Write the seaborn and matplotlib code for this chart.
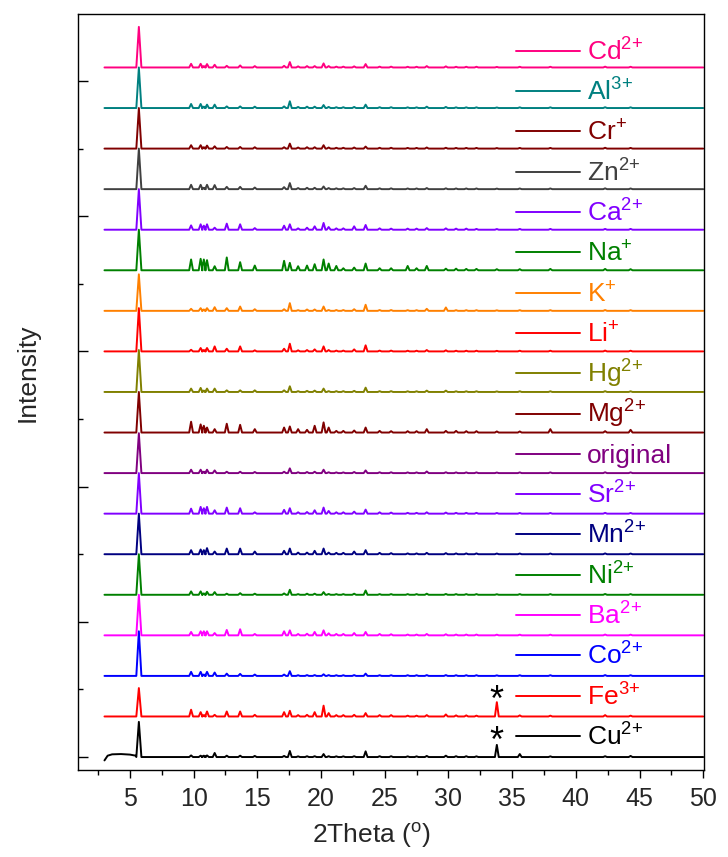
import matplotlib
matplotlib.use("Agg")
import matplotlib.pyplot as plt
import seaborn as sns
import pandas as pd
from matplotlib.ticker import MultipleLocator

# ---------------- data ----------------
# common reflection positions (2theta, degrees)
PEAK_POS = [5.7, 9.8, 10.55, 10.8, 11.05, 11.65, 12.6, 13.65, 14.8, 17.1,
            17.55, 18.2, 18.9, 19.5, 20.2, 20.6, 21.2, 21.75, 22.6, 23.5,
            24.6, 25.5, 26.8, 27.5, 28.3, 29.8, 30.6, 31.4, 32.2, 33.8,
            35.6, 38.0, 42.3, 44.3]

# peak heights above each pattern's own baseline (arbitrary units, x1000 counts)
cu_h = [2.6, .12, .10, .10, .12, .30, .10, .10, .08, .08, .45, .05, .06, .06, .22, .06, .05, .05, .06, .42,
        .06, .06, .05, .05, .08, .10, .06, .06, .05, .90, .22, .05, .06, .08]
fe_h = [2.1, .50, .32, .10, .37, .12, .37, .37, .12, .32, .42, .10, .12, .32, .80, .25, .10, .10, .12, .25,
        .10, .10, .06, .06, .10, .15, .08, .08, .06, 1.06, .08, .06, .10, .06]
co_h = [3.3, .30, .30, .10, .30, .25, .17, .15, .10, .10, .35, .05, .06, .06, .12, .06, .05, .05, .06, .17,
        .05, .05, .05, .05, .06, .06, .05, .05, .05, .04, .05, .05, .06, .05]
ba_h = [3.0, .25, .30, .30, .30, .17, .40, .45, .10, .30, .37, .10, .12, .25, .37, .15, .10, .10, .17, .25,
        .10, .08, .06, .06, .10, .08, .06, .06, .06, .05, .05, .05, .06, .05]
ni_h = [3.0, .25, .25, .10, .22, .20, .08, .12, .08, .10, .37, .05, .08, .08, .20, .06, .05, .05, .08, .32,
        .05, .05, .05, .05, .08, .06, .05, .05, .05, .04, .05, .05, .06, .05]
mn_h = [3.0, .30, .35, .30, .45, .20, .42, .42, .20, .25, .42, .12, .12, .25, .42, .12, .10, .10, .20, .30,
        .10, .08, .06, .06, .10, .08, .06, .06, .06, .05, .05, .05, .06, .05]
sr_h = [3.0, .37, .50, .40, .50, .25, .45, .40, .10, .28, .40, .10, .12, .25, .45, .20, .10, .10, .15, .30,
        .10, .08, .06, .06, .10, .08, .06, .06, .06, .05, .05, .05, .06, .05]
orig_h = [2.95, .25, .25, .10, .25, .20, .10, .10, .08, .10, .35, .06, .08, .10, .25, .06, .05, .05, .08, .20,
          .06, .06, .05, .05, .12, .06, .05, .05, .05, .04, .05, .05, .06, .05]
mg_h = [3.0, .80, .60, .50, .37, .25, .65, .57, .25, .37, .45, .25, .20, .50, .75, .37, .12, .12, .15, .37,
        .12, .10, .10, .10, .25, .12, .12, .10, .10, .08, .08, .25, .10, .20]
hg_h = [3.1, .25, .30, .10, .25, .25, .12, .12, .12, .12, .42, .06, .08, .10, .25, .06, .06, .06, .08, .32,
        .06, .06, .05, .05, .10, .10, .05, .05, .05, .04, .05, .05, .06, .05]
li_h = [3.2, .12, .25, .10, .25, .37, .20, .37, .08, .20, .57, .08, .10, .15, .37, .10, .06, .06, .15, .45,
        .06, .06, .05, .05, .10, .08, .05, .05, .05, .04, .05, .05, .06, .05]
k_h = [2.7, .15, .20, .10, .20, .27, .20, .32, .12, .12, .57, .05, .10, .10, .32, .06, .06, .06, .12, .45,
       .06, .06, .05, .05, .15, .25, .05, .05, .05, .04, .05, .05, .06, .05]
na_h = [3.0, .80, .85, .80, .75, .30, .95, .60, .35, .70, .55, .30, .35, .45, .80, .50, .32, .15, .20, .50,
        .15, .15, .32, .15, .32, .12, .12, .10, .10, .08, .08, .10, .10, .08]
ca_h = [3.0, .32, .40, .30, .40, .15, .45, .40, .12, .30, .40, .10, .15, .25, .50, .20, .10, .10, .25, .35,
        .10, .08, .08, .08, .12, .10, .08, .08, .06, .05, .06, .06, .06, .06]
zn_h = [3.0, .32, .32, .10, .32, .30, .17, .17, .12, .15, .45, .08, .10, .10, .20, .08, .06, .06, .08, .25,
        .06, .06, .05, .05, .08, .06, .05, .05, .05, .04, .05, .05, .06, .05]
cr_h = [3.0, .25, .25, .10, .22, .17, .12, .12, .10, .10, .37, .08, .10, .10, .25, .08, .06, .06, .08, .15,
        .06, .06, .05, .05, .08, .06, .05, .05, .05, .04, .05, .05, .06, .05]
al_h = [3.0, .30, .30, .10, .25, .25, .12, .12, .10, .12, .50, .08, .10, .10, .22, .08, .06, .06, .08, .25,
        .06, .06, .05, .05, .10, .08, .05, .05, .05, .04, .05, .05, .06, .05]
cd_h = [3.0, .27, .27, .10, .25, .20, .12, .15, .10, .12, .40, .08, .10, .10, .30, .10, .06, .06, .08, .25,
        .06, .06, .05, .05, .10, .08, .05, .05, .05, .04, .05, .05, .06, .05]

# broad low-angle hump of the Cu pattern
CU_HUMP_X = [3.0, 3.25, 3.6, 4.3, 5.0, 5.45]
CU_HUMP_Y = [-0.25, 0.10, 0.20, 0.22, 0.18, 0.10]

SAMPLES = ["Cu", "Fe", "Co", "Ba", "Ni", "Mn", "Sr", "original", "Mg", "Hg",
           "Li", "K", "Na", "Ca", "Zn", "Cr", "Al", "Cd"]
LABELS = [r"Cu$^{2\!+}$", r"Fe$^{3\!+}$", r"Co$^{2\!+}$", r"Ba$^{2\!+}$",
          r"Ni$^{2\!+}$", r"Mn$^{2\!+}$", r"Sr$^{2\!+}$", "original",
          r"Mg$^{2\!+}$", r"Hg$^{2\!+}$", r"Li$^{+}$", r"K$^{+}$",
          r"Na$^{+}$", r"Ca$^{2\!+}$", r"Zn$^{2\!+}$", r"Cr$^{+}$",
          r"Al$^{3\!+}$", r"Cd$^{2\!+}$"]
HEIGHTS = [cu_h, fe_h, co_h, ba_h, ni_h, mn_h, sr_h, orig_h, mg_h, hg_h,
           li_h, k_h, na_h, ca_h, zn_h, cr_h, al_h, cd_h]
COLORS = ["#000000", "#FF0000", "#0000FF", "#FF00FF", "#008000", "#000080", "#8000FF",
          "#800080", "#800000", "#808000", "#FF0000", "#FF8000", "#008000", "#8000FF",
          "#404040", "#800000", "#008080", "#FF0080"]
STAR_SAMPLES = ["Cu", "Fe"]
STAR_POS = 33.8
OFFSET_STEP = 3.0
X_START, X_END = 3.0, 50.0

# ---------------- style ----------------
sns.set_theme(style="white")
plt.rcParams["font.family"] = ["Liberation Sans", "DejaVu Sans"]
plt.rcParams["mathtext.fontset"] = "custom"
plt.rcParams["mathtext.rm"] = "Liberation Sans"
plt.rcParams["mathtext.it"] = "Liberation Sans:italic"
plt.rcParams["mathtext.default"] = "regular"
plt.rcParams["axes.edgecolor"] = "black"
plt.rcParams["axes.linewidth"] = 1.0

# ---------------- build long-form table ----------------
rows = []
for i, (name, hts) in enumerate(zip(SAMPLES, HEIGHTS)):
    base = i * OFFSET_STEP
    xs, ys = [], []
    if name == "Cu":
        xs += CU_HUMP_X
        ys += CU_HUMP_Y
    else:
        xs.append(X_START)
        ys.append(0.0)
    for p, hv in zip(PEAK_POS, hts):
        w = 0.2 if p < 6 else 0.15
        xs += [p - w, p, p + w]
        ys += [0.0, hv, 0.0]
    xs.append(X_END)
    ys.append(0.0)
    for xv, yv in zip(xs, ys):
        rows.append({"two_theta": xv, "intensity": yv + base, "sample": name})
df = pd.DataFrame(rows)

fig = plt.figure(figsize=(7.28, 8.57), dpi=100)
ax = fig.add_axes([0.1078, 0.1015, 0.8592, 0.8821])

sns.lineplot(data=df, x="two_theta", y="intensity", hue="sample", hue_order=SAMPLES,
             palette=dict(zip(SAMPLES, COLORS)), estimator=None, sort=False,
             legend=False, linewidth=1.4, ax=ax)

# per-curve legend entries
for i, (lab, col) in enumerate(zip(LABELS, COLORS)):
    y_leg = 1.556 + 2.981 * i
    ax.plot([35.3, 40.3], [y_leg, y_leg], color=col, lw=1.4)
    ax.text(40.85, y_leg - 0.7, lab, color=col, fontsize=19, va="baseline", ha="left")

# asterisks marking impurity reflections
for name in STAR_SAMPLES:
    i = SAMPLES.index(name)
    ax.text(STAR_POS, i * OFFSET_STEP + 0.4, "*", fontsize=26, ha="center",
            va="baseline", color="black")

ax.set_xlim(0.96, 50.06)
ax.set_ylim(-0.96, 54.95)
ax.xaxis.set_major_locator(MultipleLocator(5))
ax.xaxis.set_minor_locator(MultipleLocator(2.5))
ax.yaxis.set_major_locator(MultipleLocator(10))
ax.yaxis.set_minor_locator(MultipleLocator(5))
ax.tick_params(axis="x", which="major", direction="out", length=6, width=1,
               labelsize=18, pad=6, color="black", bottom=True)
ax.tick_params(axis="x", which="minor", direction="out", length=3.5, width=1,
               color="black", bottom=True)
ax.tick_params(axis="y", which="major", direction="in", length=7, width=1,
               labelleft=False, color="black", left=True)
ax.tick_params(axis="y", which="minor", direction="in", length=3.5, width=1,
               color="black", left=True)
for s in ax.spines.values():
    s.set_visible(True)
    s.set_color("black")
    s.set_linewidth(1.0)

ax.set_xlabel(r"2Theta ($^{o}$)", fontsize=19)
ax.set_ylabel("Intensity", fontsize=19)
ax.xaxis.set_label_coords(0.468, -0.068)
ax.yaxis.set_label_coords(-0.062, 0.526)

fig.savefig("out.png", dpi=100)
